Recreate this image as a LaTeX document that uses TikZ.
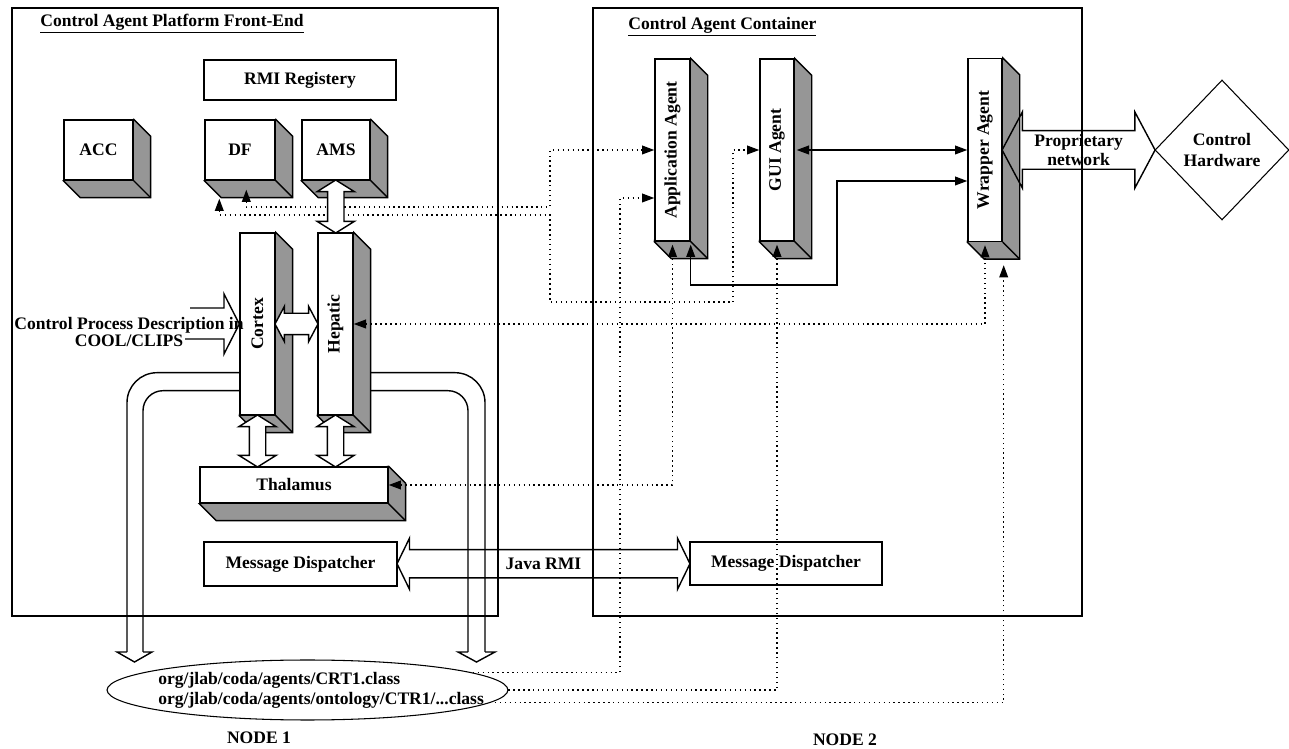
\documentclass[tikz,border=0pt]{standalone}
\usepackage{fontspec}
\setmainfont{Liberation Serif}
\usepackage{tikz}
\usetikzlibrary{shapes.geometric,shapes.arrows,arrows.meta,calc,backgrounds}
\definecolor{sideGray}{RGB}{150,150,150}
\newcommand{\extrude}[1]{%
  \begin{scope}[on background layer]
    \draw[side] (#1.north east) -- ++(17,17) -- ($(#1.south east)+(17,17)$)
      -- ($(#1.south west)+(17,17)$) -- (#1.south west) -- cycle;
    \draw[side] (#1.south east) -- ++(17,17);
  \end{scope}}
\tikzset{
  ftri/.tip={Triangle[length=7pt,width=5pt]},
  frame/.style={draw,line width=0.8pt,inner sep=0pt},
  blk/.style={draw,fill=white,line width=0.8pt,inner sep=0pt,font=\bfseries,align=center},
  side/.style={draw,fill=sideGray,line width=0.8pt},
  fat/.style={draw,double arrow,line width=0.8pt,inner xsep=0pt,font=\bfseries,align=center},
  fatline/.style={line width=0.8pt},
  dconn/.style={dotted,line width=0.8pt,ftri-ftri},
  dto/.style={dotted,line width=0.8pt,-ftri},
  sconn/.style={line width=0.8pt,ftri-ftri},
  lbl/.style={font=\bfseries,inner sep=0pt},
}

\begin{document}
\begin{tikzpicture}[x=0.02cm,y=-0.02cm]
  \useasboundingbox (0,0) rectangle (1289,749);
  %% ── Frames ──────────────────────────────────────────────────────────────
  \node[frame,minimum width=9.72cm,minimum height=12.16cm] (front) at (255,312) {};
  \node[frame,minimum width=9.78cm,minimum height=12.16cm] (cont)  at (837.5,312) {};
  \node[lbl,anchor=west] (fronttitle) at (40,24) {\underline{Control Agent Platform Front-End}};
  \node[lbl,anchor=west] (conttitle)  at (628,27) {\underline{Control Agent Container}};

  %% ── Blocks (front faces) ────────────────────────────────────────────────
  \node[blk,minimum width=3.84cm,minimum height=0.8cm]  (rmi)    at (300,80)    {RMI Registery};
  \node[blk,minimum width=1.38cm,minimum height=1.2cm]  (acc)    at (98.5,150)  {ACC};
  \node[blk,minimum width=1.4cm,minimum height=1.2cm]   (df)     at (240,150)   {DF};
  \node[blk,minimum width=1.36cm,minimum height=1.2cm]  (ams)    at (336,150)   {AMS};
  \node[blk,minimum width=0.7cm,minimum height=3.64cm]  (cortex) at (257.5,324) {\rotatebox{90}{Cortex}};
  \node[blk,minimum width=0.7cm,minimum height=3.64cm]  (hep)    at (335.5,324) {\rotatebox{90}{Hepatic}};
  \node[blk,minimum width=3.76cm,minimum height=0.72cm] (thal)   at (294,485)   {Thalamus};
  \node[blk,minimum width=3.86cm,minimum height=0.88cm] (mdl)    at (300.5,564) {Message Dispatcher};
  \node[blk,minimum width=3.84cm,minimum height=0.86cm] (mdr)    at (786,563.5) {Message Dispatcher};
  \node[blk,minimum width=0.7cm,minimum height=3.64cm]  (app)    at (672.5,150) {\rotatebox{90}{Application Agent}};
  \node[blk,minimum width=0.68cm,minimum height=3.64cm] (gui)    at (777,150)   {\rotatebox{90}{GUI Agent}};
  \node[blk,minimum width=0.68cm,minimum height=3.66cm] (wrap)   at (985,150)   {\rotatebox{90}{Wrapper Agent}};
  \node[blk,diamond,line width=0.6pt,minimum width=2.68cm,minimum height=2.8cm] (hw) at (1222,150) {Control\\Hardware};
  \foreach \b in {acc,df,ams,cortex,hep,thal,app,gui,wrap}{
    \extrude{\b}
  }

  %% ── Class repository ────────────────────────────────────────────────────
  \node[draw,ellipse,line width=0.6pt,minimum width=8.02cm,minimum height=1.2cm] (cls) at (307.5,690) {};
  \node[lbl,anchor=west,align=left,font=\bfseries\fontsize{10}{11.3}\selectfont] (clstxt) at (158,690)
    {org/jlab/coda/agents/CRT1.class\\org/jlab/coda/agents/ontology/CTR1/...class};
  \node[lbl] (node1) at (259,738) {NODE 1};
  \node[lbl] (node2) at (845,740) {NODE 2};

  %% ── Dotted links ────────────────────────────────────────────────────────
  \draw[dconn] ($(df.south west)+(15,18)$) |- (550,215) |- (733,302) |- (gui.west);
  \draw[dconn] ($(df.south west)+(42,9)$) |- (550,207) |- (app.west);
  \draw[dconn] (thal.east) -| ($(app.south)+(0,3)$);
  \draw[dconn] (hep.east) -| ($(wrap.south)+(0,3)$);
  \draw[dto] (cls.6) -| (620,198) -- ($(app.west)+(0,48)$);
  \draw[dto] (cls.east) -| ($(gui.south)+(0,3)$);
  \draw[dto] (cls.-4) -| ($(wrap.south east)+(1,23)$);

  %% ── Solid links ─────────────────────────────────────────────────────────
  \draw[sconn] ($(gui.east)+(2,0)$) -- (wrap.west);
  \draw[sconn] ($(app.south east)+(0,3)$) |- (837,285) |- ($(wrap.west)+(0,31)$);

  %% ── Fat arrows ──────────────────────────────────────────────────────────
  \node[fat,fill=white,rotate=90,inner ysep=0.15cm,minimum height=1.06cm,minimum width=0.72cm,
        double arrow head extend=0.21cm,double arrow tip angle=116]
        (amshep) at ($(ams.south)!0.5!(hep.north)$) {};
  \node[fat,fill=white,rotate=90,inner ysep=0.15cm,minimum height=1.04cm,minimum width=0.72cm,
        double arrow head extend=0.21cm,double arrow tip angle=116]
        (corthal) at ($(cortex.south)!0.5!(thal.north -| cortex.south)$) {};
  \node[fat,fill=white,rotate=90,inner ysep=0.15cm,minimum height=1.04cm,minimum width=0.72cm,
        double arrow head extend=0.21cm,double arrow tip angle=116]
        (hepthal) at ($(hep.south)!0.5!(thal.north -| hep.south)$) {};
  \node[fat,fill=white,inner ysep=0.2cm,minimum height=0.86cm,minimum width=0.68cm,
        double arrow head extend=0.14cm,double arrow tip angle=124]
        (corthep) at ($(cortex.east)!0.5!(hep.west)$) {};
  \node[fat,inner ysep=4.25pt,text height=6.8pt,text depth=0pt,minimum height=5.86cm,minimum width=1.0cm,
        double arrow head extend=0.23cm,double arrow tip angle=128]
        (javarmi) at ($(mdl.east)!0.5!(mdr.west)$) {Java RMI};
  \node[fat,inner ysep=1pt,minimum height=3.06cm,minimum width=1.52cm,font=\bfseries\fontsize{10}{11.3}\selectfont,
        double arrow head extend=0.36cm,double arrow tip angle=124]
        (propnet) at ($(wrap.east)!0.5!(hw.west)$) {Proprietary\\network};

  % input description into the cortex
  \draw[fatline] (190,308) -- (224,308) -- (224,294) -- (cortex.west) -- (224,354) -- (224,339) -- (185,339);
  \node[lbl,align=center,font=\bfseries\fontsize{10}{10.2}\selectfont] (cpd) at (129,332)
    {Control Process Description in\\COOL/CLIPS};

  % class loading paths down to the repository
  \draw[fatline,rounded corners=0.6cm] ([yshift=0.86cm]cortex.south west) -| (127,652);
  \draw[fatline,rounded corners=0.4cm] ([yshift=0.5cm]cortex.south west) -| (143,652);
  \draw[fatline] (127,652) -- (117,652) -- (134.5,662) -- (152,652) -- (143,652);
  \draw[fatline,rounded corners=0.6cm] ([xshift=0.34cm,yshift=0.86cm]hep.south east) -| (485,652);
  \draw[fatline,rounded corners=0.4cm] ([xshift=0.34cm,yshift=0.5cm]hep.south east) -| (468,652);
  \draw[fatline] (485,652) -- (495,652) -- (476.5,662) -- (458,652) -- (468,652);
\end{tikzpicture}
\end{document}
